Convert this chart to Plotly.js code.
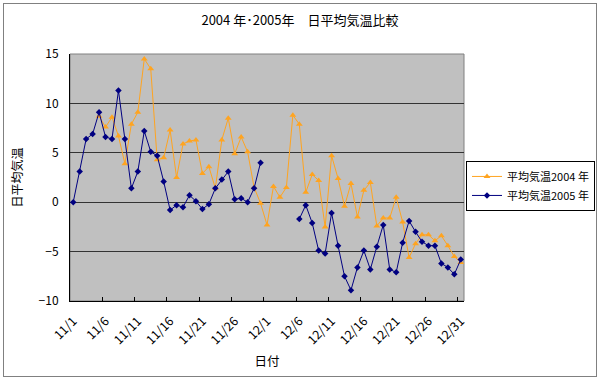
<!DOCTYPE html>
<html>
<head>
<meta charset="utf-8">
<script src="https://cdn.plot.ly/plotly-3.0.1.min.js"></script>
<style>
  html, body { margin: 0; padding: 0; background: #fff; }
  #wrap { position: relative; width: 600px; height: 380px; }
  #chart { width: 600px; height: 380px; }
  #frame { position: absolute; left: 3px; top: 3px; width: 592px; height: 372px; border: 1px solid #808080; pointer-events: none; }
</style>
</head>
<body>
<div id="wrap"><div id="chart"></div><div id="frame"></div></div>
<script>
const dates = [
  "11/1","11/2","11/3","11/4","11/5","11/6","11/7","11/8","11/9","11/10",
  "11/11","11/12","11/13","11/14","11/15","11/16","11/17","11/18","11/19","11/20",
  "11/21","11/22","11/23","11/24","11/25","11/26","11/27","11/28","11/29","11/30",
  "12/1","12/2","12/3","12/4","12/5","12/6","12/7","12/8","12/9","12/10",
  "12/11","12/12","12/13","12/14","12/15","12/16","12/17","12/18","12/19","12/20",
  "12/21","12/22","12/23","12/24","12/25","12/26","12/27","12/28","12/29","12/30","12/31"
];
const temp2004 = [
  null, null, null, null, 8.7, 7.6, 8.6, 6.7, 3.9, 7.9,
  9.1, 14.5, 13.5, 4.3, 4.5, 7.3, 2.5, 5.9, 6.2, 6.3,
  2.9, 3.6, 1.4, 6.3, 8.5, 4.9, 6.6, 5.1, 1.5, -0.1,
  -2.3, 1.6, 0.5, 1.5, 8.8, 7.9, 1.0, 2.8, 2.2, -2.5,
  4.7, 2.4, -0.4, 1.9, -1.5, 1.2, 2.0, -2.4, -1.6, -1.6,
  0.5, -2.0, -5.6, -4.2, -3.3, -3.3, -3.9, -3.4, -4.4, -5.5, -6.1
];
const temp2005 = [
  0.0, 3.1, 6.4, 6.9, 9.1, 6.6, 6.4, 11.3, 6.4, 1.4,
  3.1, 7.2, 5.1, 4.7, 2.1, -0.8, -0.3, -0.5, 0.7, 0.1,
  -0.7, -0.2, 1.4, 2.3, 3.1, 0.3, 0.4, 0.0, 1.4, 4.0,
  null, null, null, null, null, -1.7, -0.3, -2.1, -4.9, -5.2,
  -1.1, -4.4, -7.5, -8.9, -6.6, -4.9, -6.8, -4.5, -2.3, -6.8,
  -7.1, -4.1, -1.9, -3.0, -4.0, -4.4, -4.4, -6.2, -6.6, -7.3, -5.8
];
const seriesNames = ["平均気温2004 年", "平均気温2005 年"];
const chartTitle = "2004 年･2005年　日平均気温比較";
const xTitle = "日付";
const yTitle = "日平均気温";

const FONT = '"Noto Sans CJK JP", "Noto Sans", sans-serif';

const traces = [
  {
    x: dates, y: temp2004, name: seriesNames[0], type: "scatter", mode: "lines+markers",
    line: { color: "#FFA420", width: 1 },
    marker: { symbol: "triangle-up", size: 6, color: "#FFA420" },
    connectgaps: false
  },
  {
    x: dates, y: temp2005, name: seriesNames[1], type: "scatter", mode: "lines+markers",
    line: { color: "#000080", width: 1 },
    marker: { symbol: "diamond", size: 5, color: "#000080" },
    connectgaps: false
  }
];

const layout = {
  width: 600, height: 380,
  margin: { l: 70, r: 136, t: 54, b: 79, autoexpand: false },
  paper_bgcolor: "#ffffff",
  plot_bgcolor: "#C0C0C0",
  font: { family: FONT, size: 12, color: "#000" },
  title: { text: chartTitle, x: 0.5, xanchor: "center", y: 0.947, yanchor: "middle", font: { family: FONT, size: 13, color: "#000" } },
  showlegend: true,
  legend: {
    x: 1.3325, xanchor: "right", y: 0.567, yanchor: "top",
    bgcolor: "#ffffff", bordercolor: "#000000", borderwidth: 1,
    font: { family: FONT, size: 11, color: "#000" },
    itemwidth: 30, tracegroupgap: 0
  },
  xaxis: {
    type: "category",
    categoryorder: "array", categoryarray: dates,
    range: [-0.5, dates.length - 0.5],
    tickmode: "linear", tick0: 0, dtick: 5,
    tickson: "boundaries",
    ticks: "inside", ticklen: 4, tickcolor: "#000",
    tickangle: -45, ticklabelstandoff: 7,
    showgrid: false, zeroline: false,
    showline: true, linecolor: "#000", linewidth: 1,
    tickfont: { family: FONT, size: 12.5, color: "#000" },
    title: { text: xTitle, font: { family: FONT, size: 12.5, color: "#000" }, standoff: 10 }
  },
  yaxis: {
    range: [-10, 15], dtick: 5, tick0: -10,
    showgrid: true, gridcolor: "#333333", gridwidth: 1,
    zeroline: false,
    showline: true, linecolor: "#000", linewidth: 1,
    ticks: "", ticklabelstandoff: 8,
    tickfont: { family: FONT, size: 12, color: "#000" },
    title: { text: yTitle, font: { family: FONT, size: 12, color: "#000" }, standoff: 13 }
  },
  shapes: [
    { type: "rect", xref: "paper", yref: "paper", x0: 0, x1: 1, y0: 0, y1: 1, line: { color: "#808080", width: 1 }, layer: "below" }
  ]
};

Plotly.newPlot("chart", traces, layout, { displayModeBar: false, staticPlot: true });
</script>
</body>
</html>
